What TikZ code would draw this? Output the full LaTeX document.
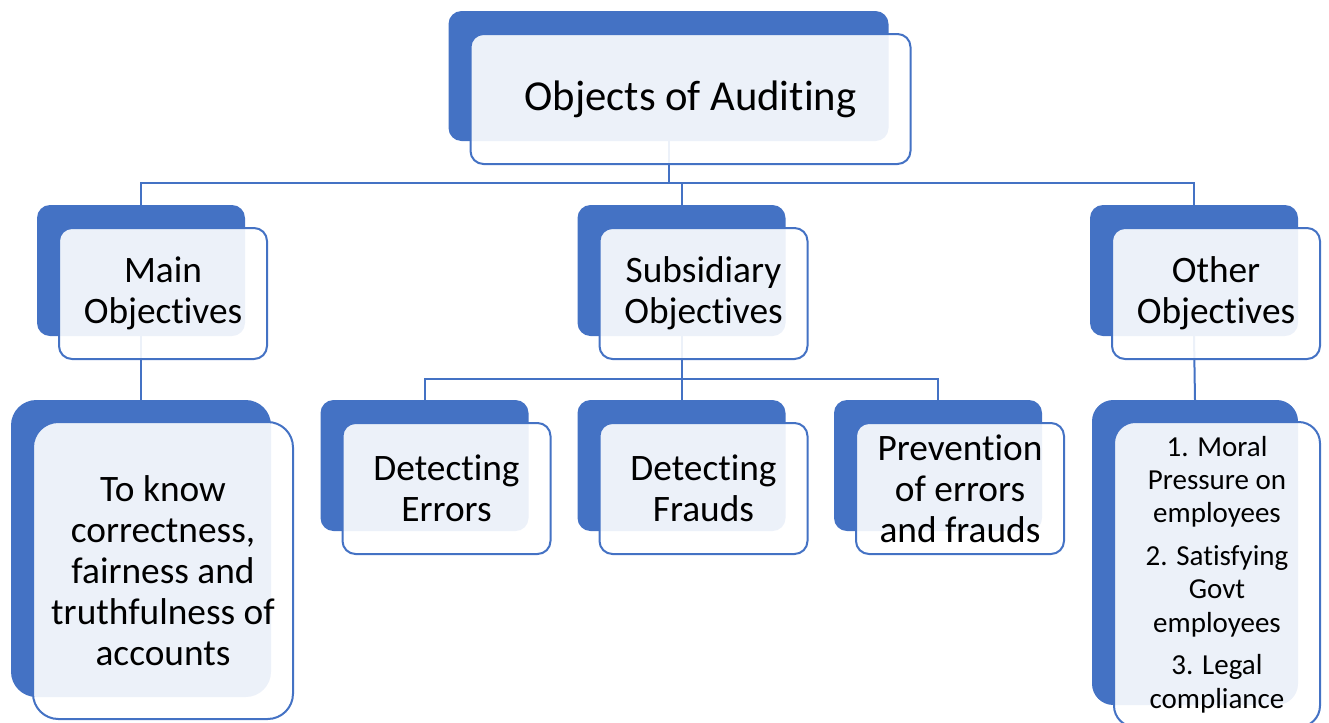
\documentclass[tikz,border=0pt]{standalone}
\usepackage{fontspec}
\setmainfont{Carlito}[RawFeature={-liga;-clig;-calt;-dlig}]
\usepackage{xcolor}
\usetikzlibrary{backgrounds}
\definecolor{accent}{HTML}{4472C4}
\tikzset{
    back/.style={fill=accent, rounded corners=9.75pt, inner sep=0pt, outer sep=0pt},
    front/.style={draw=accent, line width=1.5pt, fill=white, fill opacity=0.9, text opacity=1,
        rounded corners=9.75pt, inner sep=0pt, outer sep=0pt, align=center},
    link/.style={draw=accent, line width=1.5pt},
    smallbox/.style={minimum width=156pt, minimum height=98.25pt},
    toptext/.style={font=\fontsize{32}{38}\selectfont},
    midtext/.style={font=\fontsize{28}{30.75}\selectfont},
    listtext/.style={font=\fontsize{21.75}{25}\selectfont}
}

\begin{document}
\begin{tikzpicture}[x=0.75pt, y=-0.75pt]
    \useasboundingbox (0,0) rectangle (1329,722);
    % Back boxes
    \node[back, minimum width=330pt, minimum height=97.5pt] (top) at (668.5,76) {};
    \node[back, smallbox] (main) at (141,270.5) {};
    \node[back, smallbox] (sub) at (681.5,270.5) {};
    \node[back, smallbox] (other) at (1194,270.5) {};
    \node[back, minimum width=195pt, minimum height=222.75pt, rounded corners=19pt] (mtext) at (141,548.5) {};
    \node[back, smallbox] (errors) at (424.5,465.5) {};
    \node[back, smallbox] (frauds) at (681.5,465.5) {};
    \node[back, smallbox] (prevent) at (938,465.5) {};
    \node[back, minimum width=154.5pt, minimum height=228.75pt, rounded corners=16pt] (otext) at (1195,552.5) {};
    % Front boxes with text
    \node[front, toptext, minimum width=330pt, minimum height=97.5pt] (topf) at ([shift={(22,23)}]top.center) {Objects of Auditing};
    \node[front, midtext, smallbox] (mainf) at ([shift={(22,23)}]main.center) {Main\\Objectives};
    \node[front, midtext, smallbox] (subf) at ([shift={(22,23)}]sub.center) {Subsidiary\\Objectives};
    \node[front, midtext, smallbox] (otherf) at ([shift={(22,23)}]other.center) {Other\\Objectives};
    \node[front, midtext, minimum width=195pt, minimum height=222.75pt, rounded corners=19pt] (mtextf) at ([shift={(22,22)}]mtext.center)
        {To know\\correctness,\\fairness and\\truthfulness of\\accounts};
    \node[front, midtext, smallbox] (errorsf) at ([shift={(22,23)}]errors.center) {Detecting\\Errors};
    \node[front, midtext, smallbox] (fraudsf) at ([shift={(22,23)}]frauds.center) {Detecting\\Frauds};
    \node[front, midtext, smallbox] (preventf) at ([shift={(22,23)}]prevent.center) {Prevention\\of errors\\and frauds};
    \node[front, listtext, minimum width=154.5pt, minimum height=228.75pt, rounded corners=16pt] (otextf) at ([shift={(22,22)}]otext.center)
        {1. Moral\\Pressure on\\employees\\[7pt]2. Satisfying\\Govt\\employees\\[7pt]3. Legal\\compliance};
    % Connectors
    \coordinate (split1) at (0,183);
    \coordinate (split2) at (0,379);
    \begin{scope}[on background layer]
        \draw[link] (top.center) -- (top.center |- split1);
        \draw[link] (main.north) |- (top.center |- split1) -| (other.north);
        \draw[link] (sub.north) -- (sub.north |- split1);
        \draw[link] (main.south) -- (mtext.north);
        \draw[link] (sub.south) -- (sub.south |- split2);
        \draw[link] (errors.north) |- (sub.south |- split2) -| (prevent.north);
        \draw[link] (frauds.north) -- (frauds.north |- split2);
        \draw[link] (other.south) -- (otext.north);
    \end{scope}
\end{tikzpicture}
\end{document}
